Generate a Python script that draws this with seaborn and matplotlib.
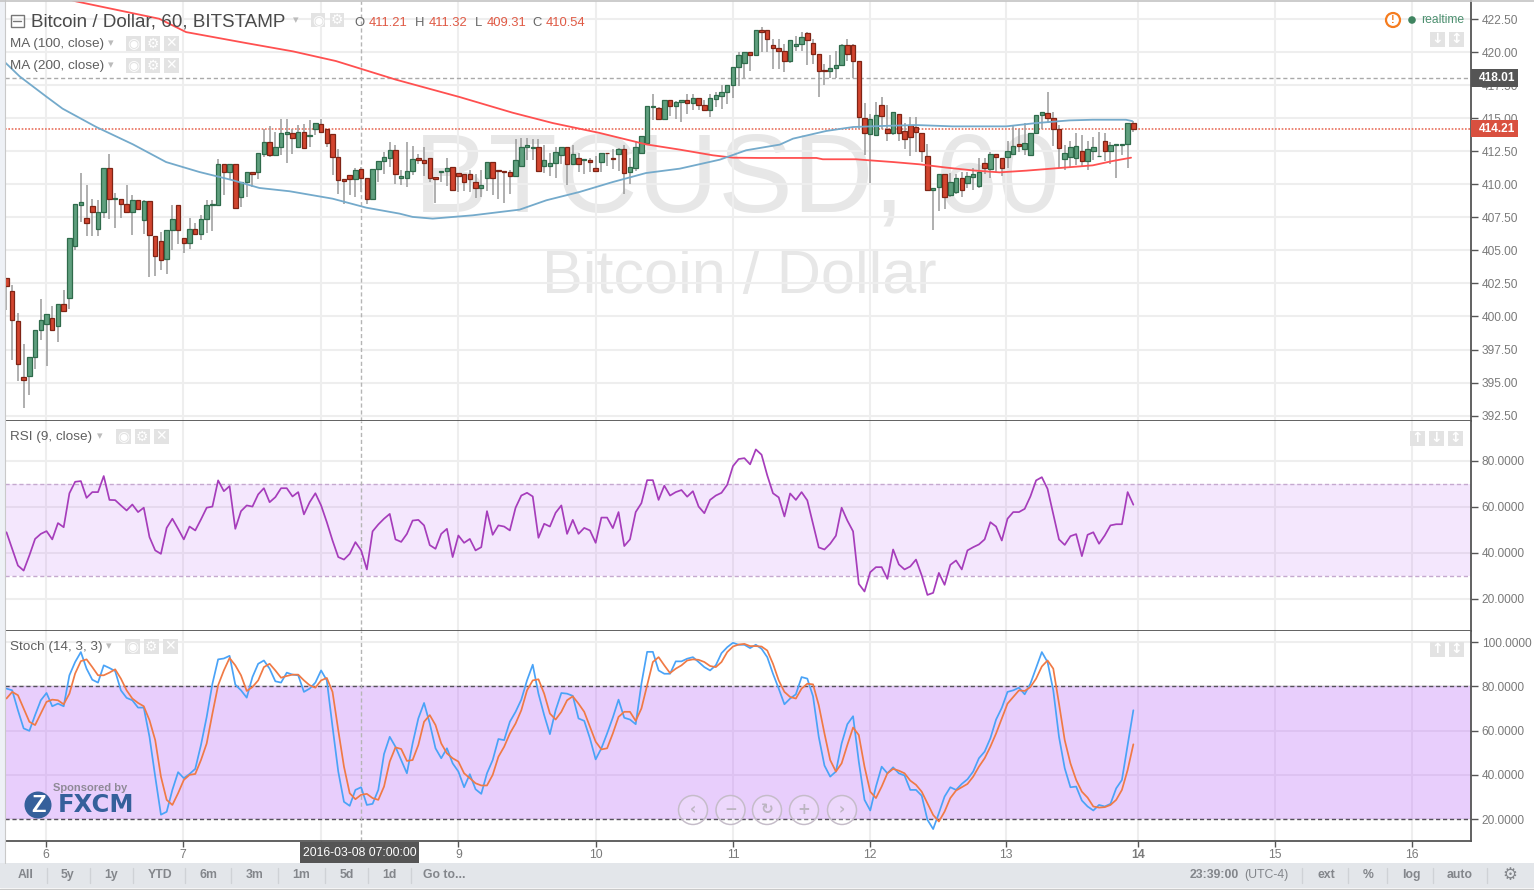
import numpy as np
import matplotlib
matplotlib.use("Agg")
import matplotlib.pyplot as plt
from matplotlib.patches import Rectangle, Circle
import seaborn as sns

sns.set_theme(style="white")
plt.rcParams['font.family'] = ['Liberation Sans', 'DejaVu Sans']

opens = [
    402.94, 401.93, 399.66, 395.43, 395.53, 396.94, 398.96, 399.46, 399.92, 399.26,
    400.92, 401.43, 405.31, 408.41, 407.48, 408.33, 406.64, 407.93, 411.26, 408.91,
    408.89, 408.48, 407.93, 408.79, 407.27, 408.74, 406.06, 405.71, 404.35, 406.52,
    408.41, 405.91, 405.59, 406.64, 406.27, 407.40, 408.45, 408.41, 411.56, 410.93,
    411.56, 409.04, 410.17, 410.90, 410.93, 412.31, 413.22, 412.21, 412.82, 413.83,
    413.90, 412.82, 413.95, 413.67, 414.15, 414.58, 414.15, 413.83, 412.06, 410.42,
    410.68, 410.42, 411.15, 410.50, 408.91, 411.13, 411.76, 412.01, 412.57, 410.48,
    410.48, 411.00, 411.95, 411.85, 412.00, 410.55, 410.90, 411.00, 411.30, 410.85,
    410.75, 410.75, 410.15, 409.70, 410.45, 411.70, 411.05, 411.00, 410.90, 410.65,
    411.40, 412.85, 412.75, 412.85, 411.40, 411.35, 411.60, 412.25, 412.85, 411.50,
    411.95, 411.85, 411.85, 411.25, 411.65, 412.40, 412.00, 412.30, 412.70, 410.90,
    411.25, 412.35, 413.12, 415.85, 415.74, 414.93, 416.40, 415.90, 416.25, 416.40,
    416.15, 416.50, 416.00, 415.65, 416.45, 416.70, 417.00, 417.50, 418.85, 419.20,
    420.00, 419.75, 421.70, 421.65, 420.50, 420.30, 420.05, 419.35, 420.45, 420.60,
    421.45, 420.70, 419.85, 418.65, 418.55, 418.80, 419.05, 420.50, 420.50, 419.35,
    415.00, 413.80, 413.75, 416.00, 414.15, 413.90, 415.35, 414.00, 414.50, 414.35,
    413.90, 412.15, 409.60, 409.80, 410.75, 409.15, 409.45, 410.45, 410.10, 410.55,
    409.90, 411.60, 411.15, 412.30, 412.00, 412.05, 412.30, 413.05, 412.70, 412.25,
    413.90, 415.25, 415.40, 415.00, 414.15, 411.90, 412.05, 412.00, 412.55, 411.75,
    412.55, 412.10, 413.25, 412.50, 412.95, 413.00, 413.05, 414.65,
]
highs = [
    402.94, 402.36, 400.27, 397.95, 396.94, 399.00, 401.35, 400.17, 400.80, 400.92,
    402.00, 405.91, 408.48, 410.85, 409.92, 408.90, 408.80, 411.26, 412.26, 409.34,
    408.89, 409.92, 409.16, 408.79, 408.79, 408.74, 406.06, 406.39, 406.52, 408.41,
    408.41, 405.91, 407.48, 407.10, 407.65, 408.84, 408.84, 411.94, 411.56, 411.56,
    411.56, 410.17, 410.90, 410.90, 412.39, 414.20, 414.38, 413.95, 414.96, 414.96,
    414.20, 414.46, 414.53, 414.88, 414.66, 414.90, 414.15, 413.83, 412.69, 410.42,
    410.68, 411.23, 411.30, 410.50, 411.15, 411.76, 412.44, 413.20, 412.94, 411.10,
    413.20, 412.90, 412.30, 412.80, 412.00, 410.55, 411.00, 412.00, 411.30, 410.85,
    410.75, 411.10, 410.75, 411.10, 411.70, 411.70, 411.05, 411.00, 411.10, 413.40,
    413.50, 413.50, 413.40, 413.40, 412.95, 412.35, 412.80, 412.85, 412.85, 413.00,
    412.40, 411.90, 412.00, 412.15, 412.40, 412.40, 412.65, 412.75, 413.00, 411.95,
    413.30, 413.65, 415.89, 416.85, 415.85, 416.40, 416.40, 416.30, 416.40, 416.85,
    416.85, 416.50, 416.35, 416.85, 417.00, 417.50, 417.50, 418.90, 420.00, 420.00,
    420.00, 421.70, 421.90, 421.65, 421.00, 420.95, 420.60, 420.90, 421.25, 421.55,
    421.55, 421.00, 419.85, 419.10, 419.80, 420.10, 420.60, 420.95, 420.60, 419.35,
    416.15, 415.30, 416.20, 416.60, 416.00, 415.50, 415.35, 414.60, 415.10, 415.10,
    413.90, 413.05, 409.75, 410.75, 410.75, 410.85, 410.80, 410.95, 410.95, 411.20,
    411.95, 411.95, 412.45, 412.30, 412.00, 413.30, 414.45, 414.20, 414.60, 413.90,
    415.25, 415.50, 417.00, 415.50, 414.45, 412.95, 413.30, 413.90, 413.70, 413.30,
    413.60, 413.95, 413.90, 413.20, 413.05, 413.05, 414.60, 414.80,
]
lows = [
    400.47, 396.74, 395.10, 393.11, 394.04, 396.06, 398.25, 396.24, 398.96, 398.08,
    400.42, 400.60, 405.00, 407.15, 406.06, 406.06, 406.06, 407.48, 407.40, 406.72,
    407.48, 407.93, 406.14, 408.16, 406.27, 402.99, 403.04, 403.54, 403.24, 405.00,
    405.51, 404.83, 405.13, 406.27, 405.76, 406.32, 406.47, 408.41, 409.16, 410.30,
    408.23, 408.28, 409.04, 409.80, 410.42, 412.06, 412.06, 412.21, 412.19, 411.61,
    412.31, 412.82, 412.74, 412.82, 413.70, 413.98, 412.82, 410.68, 409.29, 408.53,
    409.16, 409.04, 409.42, 408.48, 408.86, 410.17, 410.75, 411.30, 410.05, 409.95,
    409.80, 410.70, 411.50, 410.60, 410.15, 408.60, 410.20, 409.90, 409.50, 409.45,
    409.50, 409.45, 408.95, 409.00, 409.50, 409.20, 408.90, 408.60, 409.30, 410.65,
    411.40, 411.85, 411.85, 411.00, 410.85, 410.60, 410.50, 411.50, 409.95, 411.50,
    410.90, 410.80, 410.90, 410.90, 410.90, 411.40, 411.15, 411.00, 409.30, 410.00,
    411.00, 412.30, 413.05, 414.85, 414.90, 414.88, 415.20, 414.90, 414.70, 415.35,
    415.60, 415.60, 415.60, 415.10, 415.85, 415.70, 416.10, 416.55, 417.40, 418.00,
    418.60, 419.75, 420.00, 420.00, 418.70, 418.70, 418.50, 419.20, 420.10, 420.10,
    419.00, 419.10, 416.60, 417.50, 418.05, 418.05, 419.00, 419.30, 418.05, 414.20,
    412.20, 410.10, 413.75, 414.20, 413.30, 413.70, 413.30, 412.70, 412.15, 412.45,
    411.70, 409.60, 406.55, 408.00, 408.15, 409.05, 409.30, 409.05, 409.70, 409.60,
    409.70, 410.75, 410.45, 410.90, 410.60, 411.20, 412.30, 412.45, 412.20, 412.25,
    413.90, 414.20, 414.60, 412.90, 411.20, 411.05, 411.30, 411.45, 411.30, 411.05,
    411.80, 412.10, 411.75, 411.55, 410.45, 412.20, 411.25, 413.95,
]
closes = [
    402.33, 399.76, 396.44, 395.18, 396.94, 399.00, 399.76, 400.17, 398.96, 400.92,
    400.42, 405.91, 408.48, 408.66, 407.07, 407.93, 407.93, 411.26, 408.91, 408.95,
    408.48, 407.93, 408.79, 408.16, 408.74, 406.14, 404.60, 404.25, 406.52, 407.40,
    406.57, 405.59, 406.64, 406.27, 407.35, 408.41, 408.50, 411.56, 410.93, 411.56,
    408.23, 410.17, 410.90, 410.80, 412.39, 413.22, 412.21, 412.82, 413.90, 413.95,
    413.50, 413.95, 412.74, 413.75, 414.66, 413.98, 413.12, 412.06, 410.30, 410.25,
    410.42, 411.10, 410.50, 408.91, 411.15, 411.76, 412.06, 412.57, 410.75, 410.60,
    411.00, 411.90, 411.85, 411.60, 410.50, 410.40, 411.00, 411.25, 409.60, 410.65,
    410.20, 410.40, 409.70, 409.95, 411.70, 410.45, 411.00, 410.90, 410.65, 411.85,
    412.85, 413.00, 412.85, 411.00, 411.80, 411.60, 412.45, 412.85, 411.50, 412.30,
    411.50, 411.90, 411.70, 411.00, 412.40, 412.35, 411.90, 412.70, 410.85, 411.30,
    412.85, 413.65, 415.89, 415.88, 414.96, 416.40, 415.90, 416.20, 416.40, 416.15,
    416.50, 416.00, 415.65, 416.50, 416.75, 417.00, 417.50, 418.90, 419.75, 420.00,
    419.75, 421.70, 421.55, 420.95, 420.30, 420.10, 419.35, 420.90, 420.60, 421.15,
    420.90, 419.85, 418.60, 418.55, 418.80, 419.05, 420.50, 419.85, 419.35, 415.10,
    413.90, 414.90, 415.25, 415.20, 413.90, 415.50, 413.90, 413.45, 413.55, 413.95,
    412.50, 409.60, 409.75, 410.75, 409.00, 410.20, 410.45, 409.60, 410.65, 410.80,
    410.95, 411.20, 412.30, 412.05, 411.20, 412.50, 412.90, 412.90, 413.15, 413.90,
    415.25, 415.50, 415.00, 414.15, 412.75, 412.40, 412.80, 412.90, 411.75, 412.65,
    412.80, 412.15, 412.50, 413.00, 413.05, 413.05, 414.60, 414.15,
]

# moving averages, read at the bends of the two lines
ma200_hours = [5, 12.2, 26.7, 31.4, 41.9, 50.1, 57.6, 68.1, 79.2, 88.5, 95.5, 103.7, 111.8,
               117.7, 123.5, 127, 131.6, 141.6, 142.7, 148.5, 150.9, 155, 159.6, 164.3,
               168.9, 173.6, 178.3, 184.1, 189.9, 193.4, 196.6]
ma200 = [424.7, 423.83, 422.52, 421.51, 420.68, 420.05, 419.32, 417.91, 416.6, 415.41, 414.63,
         413.88, 413.02, 412.62, 412.19, 412.01, 411.99, 411.99, 411.89, 411.89, 411.81,
         411.68, 411.51, 411.26, 411.05, 410.9, 411.03, 411.23, 411.43, 411.76, 412.01]
ma100_hours = [-0.3, 2.3, 6.9, 9.8, 15.7, 22.1, 27.9, 33.7, 39.6, 44.2, 49.5, 57, 62.9, 68.7,
               71, 74.5, 81.5, 89.7, 94.4, 100.2, 106, 111.8, 117.7, 124.7, 129.3, 135.2,
               137.5, 143.3, 148, 153.2, 159, 165.4, 174.8, 180, 185.8, 189.9, 195.7, 196.8]
ma100 = [419.24, 418.16, 416.65, 415.72, 414.33, 413.02, 411.68, 410.93, 410.3, 409.72, 409.47,
         408.91, 408.23, 407.78, 407.53, 407.4, 407.65, 408.08, 408.79, 409.42, 410.17, 410.85,
         411.18, 411.86, 412.57, 413.0, 413.45, 414.03, 414.33, 414.41, 414.48, 414.38, 414.38,
         414.63, 414.83, 414.88, 414.88, 414.78]

rsi = [
    48.9, 41.7, 34.4, 32.2, 38.8, 46.0, 48.2, 49.4, 45.8, 52.9, 51.1, 65.9, 70.9, 71.2, 63.9,
    66.4, 66.4, 73.4, 63.0, 62.9, 60.6, 58.4, 61.0, 57.7, 59.6, 46.8, 41.0, 39.5, 50.8, 54.8,
    50.4, 45.8, 51.4, 49.7, 54.5, 59.6, 60.1, 71.5, 66.8, 69.0, 50.4, 58.1, 60.6, 60.1, 65.4,
    68.1, 62.0, 64.2, 68.1, 68.1, 64.5, 66.4, 56.7, 62.0, 65.9, 60.6, 53.3, 45.3, 38.1, 37.0,
    39.5, 44.6, 41.0, 32.7, 49.3, 52.3, 54.8, 56.9, 45.8, 44.7, 48.2, 54.0, 54.3, 51.9, 43.3,
    41.7, 48.2, 50.4, 38.1, 47.5, 44.3, 46.0, 41.0, 42.4, 58.1, 47.8, 51.9, 51.4, 49.7, 59.6,
    64.9, 66.1, 64.5, 46.5, 52.6, 51.4, 57.4, 60.6, 48.2,
    54.3, 48.2, 50.8, 49.7, 44.3, 55.3, 55.3, 50.7, 57.7, 42.9,
    45.8, 57.7, 61.6, 71.6, 71.6, 63.0, 69.2, 64.9, 66.4, 67.3,
    64.4, 66.8, 60.1, 57.2, 63.0, 64.9, 66.1, 69.6, 77.7, 80.8,
    81.2, 78.5, 85.0, 82.7, 73.7, 65.9, 64.1, 55.8, 65.8, 63.0,
    66.4, 62.8, 52.6, 42.3, 41.4, 43.9, 47.4, 59.6, 54.0, 49.3,
    26.4, 23.1, 31.5, 33.7, 33.7, 28.6, 41.4, 34.9, 32.7, 34.0,
    37.0, 30.1, 21.6, 22.5, 31.2, 26.0, 34.7, 36.6, 32.7, 41.0,
    42.4, 43.6, 45.8, 53.3, 51.4, 45.3, 54.8, 57.7, 57.7, 59.1,
    64.5, 71.5, 72.9, 67.8, 56.9, 45.8, 43.4, 47.2, 48.1, 38.5,
    47.8, 48.9, 43.9, 47.5, 51.9, 52.4, 52.4, 66.4, 60.9,
]
stoch_k = [
    79.0, 78.2, 69.2, 61.0, 59.9, 67.0, 73.7, 77.0, 71.0, 72.2,
    71.0, 85.0, 91.0, 95.5, 88.0, 83.0, 81.7, 89.5, 88.3, 86.9,
    78.2, 74.8, 73.7, 70.4, 70.4, 57.2, 39.2, 22.0, 23.3, 33.2,
    41.2, 38.5, 40.4, 42.7, 53.5, 66.2, 81.2, 92.2, 92.6, 93.8,
    80.8, 78.2, 74.9, 84.2, 90.2, 91.7, 88.0, 82.3, 81.7, 86.2,
    85.3, 85.0, 77.5, 79.0, 81.7, 87.2, 82.7, 61.7, 41.5, 27.8,
    26.0, 33.2, 34.4, 26.4, 26.9, 33.2, 49.4, 57.2, 52.7, 46.7,
    40.7, 54.2, 65.5, 72.5, 63.2, 52.0, 47.5, 52.0, 45.2, 41.5,
    34.4, 40.3, 33.5, 31.4, 40.7, 46.7, 56.2, 55.7, 64.0, 68.5,
    74.0, 82.7, 89.8, 76.7, 67.0, 58.4, 69.2, 77.0, 76.7,
    75.7, 65.5, 64.4, 56.5, 47.0, 52.0, 58.7, 65.9, 74.0, 65.8,
    65.0, 62.9, 81.2, 95.6, 95.6, 87.2, 85.7, 85.7, 91.3, 91.3,
    92.5, 93.2, 91.0, 88.7, 87.2, 89.5, 95.0, 97.7, 99.7, 98.8,
    98.8, 97.3, 98.8, 97.0, 93.2, 85.7, 79.0, 71.9, 74.5, 76.4,
    84.2, 83.5, 75.5, 57.2, 44.2, 39.2, 41.5, 54.2, 62.9, 66.5,
    46.0, 28.7, 23.9, 34.7, 43.7, 40.7, 43.4, 40.7, 39.7, 33.2,
    33.2, 30.6, 19.7, 15.5, 22.7, 30.2, 34.4, 33.2, 35.9, 38.0,
    41.5, 47.5, 50.5, 56.5, 65.0, 70.3, 77.5, 78.2, 79.4, 76.4,
    81.2, 88.4, 95.5, 91.0, 78.2, 57.2, 43.0, 34.4, 34.7, 28.4,
    25.7, 23.9, 26.4, 25.7, 26.9, 33.9, 37.7, 53.5, 69.2,
]
stoch_d = [
    74.5, 77.5, 76.0, 70.0, 64.0, 62.5, 67.7, 73.0, 74.0, 73.7,
    71.9, 76.7, 85.8, 91.4, 92.2, 88.7, 85.0, 85.0, 86.2, 87.7,
    83.5, 78.2, 74.5, 72.5, 71.0, 64.7, 55.7, 39.2, 28.7, 26.4,
    31.7, 37.7, 40.0, 40.4, 46.7, 54.2, 67.7, 80.5, 87.2, 92.8,
    89.5, 85.0, 77.9, 79.7, 82.7, 88.7, 90.2, 87.2, 83.9, 84.7,
    85.3, 85.3, 82.7, 80.5, 79.4, 82.7, 83.8, 77.5, 60.2, 43.7,
    31.7, 29.0, 31.0, 31.4, 29.5, 28.7, 34.7, 46.0, 52.4, 51.7,
    46.3, 46.7, 53.5, 64.0, 67.0, 62.5, 54.2, 49.7, 47.5, 46.0,
    40.7, 38.5, 36.2, 35.2, 35.2, 40.0, 48.2, 52.7, 58.7, 63.2,
    69.2, 78.2, 82.7, 83.2, 76.7, 67.7, 65.0, 68.5, 73.7,
    75.5, 72.2, 68.5, 61.7, 55.0, 51.5, 52.0, 58.7, 66.2, 68.5,
    68.5, 64.4, 70.0, 80.5, 91.0, 93.2, 89.5, 86.0, 88.0, 89.5,
    91.7, 92.2, 92.0, 91.0, 89.2, 88.7, 91.0, 95.5, 98.0, 98.9,
    99.2, 98.2, 98.2, 98.0, 96.2, 90.2, 82.7, 77.5, 75.2, 74.5,
    79.0, 81.2, 80.9, 71.5, 58.7, 46.7, 41.5, 45.2, 53.5, 61.4,
    58.0, 43.7, 32.4, 29.5, 34.7, 40.7, 42.7, 41.9, 40.7, 37.4,
    35.5, 32.4, 27.2, 21.9, 18.9, 23.4, 29.5, 32.9, 34.4, 35.9,
    39.2, 43.7, 47.5, 52.7, 58.7, 65.5, 72.2, 75.2, 78.2, 77.9,
    79.7, 83.5, 89.0, 91.7, 88.0, 72.2, 55.7, 45.2, 37.7, 32.4,
    29.7, 25.7, 25.2, 25.4, 26.4, 28.7, 33.2, 42.2, 53.8,
]

# the "8" tick is hidden by the crosshair date tag in the chart
day_ticks = [6.9, 30.9, 55, 79, 103, 127, 151, 174.8, 197.8, 221.8, 245.7]
day_labels = ["6", "7", "", "9", "10", "11", "12", "13", "14", "15", "16"]
price_ticks = [392.5, 395, 397.5, 400, 402.5, 405, 407.5, 410, 412.5, 415, 417.5, 420, 422.5]
rsi_ticks = [20, 40, 60, 80]
stoch_ticks = [20, 40, 60, 80, 100]
last_close = 414.21
prev_close = 418.01

W, H = 1534, 890
GRID = "#eeeeee"
TICK = "#7a7a7a"
DARK = "#555555"
hours = np.arange(len(closes))
xlim = (-0.26, 255.94)


def add_pane(top, bottom, ylim):
    ax = fig.add_axes([5 / W, 1 - bottom / H, 1465.5 / W, (bottom - top) / H])
    ax.set_xlim(*xlim)
    ax.set_ylim(*ylim)
    ax.set_xticks(day_ticks)
    ax.set_xticklabels([])
    ax.yaxis.tick_right()
    ax.tick_params(axis="y", length=5, width=1, color=DARK, labelsize=8.6,
                   labelcolor=TICK, pad=3, right=True)
    ax.tick_params(axis="x", length=0)
    ax.grid(True, color=GRID, lw=1.5, zorder=0)
    ax.set_axisbelow(True)
    for side in ["left", "top"]:
        ax.spines[side].set_visible(False)
    for side in ["right", "bottom"]:
        ax.spines[side].set_color(DARK)
        ax.spines[side].set_linewidth(1.3)
    return ax


def ui_button(x, y, glyph, size=15):
    ui.add_patch(Rectangle((x - size / 2, y - size / 2), size, size, fc="#e3e3e3", ec="none"))
    ui.text(x, y, glyph, color="white", ha="center", va="center", fontsize=10,
            family="DejaVu Sans", fontweight="bold")


fig = plt.figure(figsize=(W / 100, H / 100), dpi=100, facecolor="white")
ui = fig.add_axes([0, 0, 1, 1], zorder=10)
ui.set_xlim(0, W)
ui.set_ylim(H, 0)
ui.axis("off")
ui.patch.set_alpha(0)

# price pane
ax1 = add_pane(0.5, 420.5, (392.13, 423.9))
ax1.set_yticks(price_ticks)
ax1.set_yticklabels([f"{v:.2f}" for v in price_ticks])
ax1.text(737, 183, "BTCUSD, 60", transform=ui.transData, color="#e7e7e7", fontsize=80.5,
         ha="center", va="center", zorder=0.5)
ax1.text(739, 277, "Bitcoin / Dollar", transform=ui.transData, color="#e7e7e7", fontsize=44,
         ha="center", va="center", zorder=0.5)

o, h, l, c = map(np.array, (opens, highs, lows, closes))
up = c >= o
ax1.vlines(hours, l, h, color="#9a9a9a", lw=1.1, zorder=2)
body = np.maximum(np.abs(c - o), 0.04)
ax1.bar(hours[up], body[up], bottom=o[up], width=0.78, color="#5f9f7e", edgecolor="#2f6b4b",
        linewidth=0.9, zorder=3)
ax1.bar(hours[~up], body[~up], bottom=c[~up], width=0.78, color="#d2452f", edgecolor="#7f2415",
        linewidth=0.9, zorder=3)
sns.lineplot(x=ma200_hours, y=ma200, ax=ax1, color="#ff5050", lw=1.3, zorder=4,
             estimator=None, errorbar=None)
sns.lineplot(x=ma100_hours, y=ma100, ax=ax1, color="#74aacb", lw=1.3, zorder=4,
             estimator=None, errorbar=None)
ax1.axhline(prev_close, color="#aaaaaa", lw=1, ls=(0, (3, 2)), zorder=1.5)
ax1.axhline(last_close, color="#e8705c", lw=1.2, ls=(0, (1, 1)), zorder=1.5)

# rsi pane
ax2 = add_pane(420.5, 630.5, (6.1, 97.6))
ax2.set_yticks(rsi_ticks)
ax2.set_yticklabels([f"{v:.4f}" for v in rsi_ticks])
ax2.axhspan(30, 70, color="#b85bf1", alpha=0.14, lw=0, zorder=1)
for level in (30, 70):
    ax2.axhline(level, color="#c5a9cf", lw=1, ls=(0, (3, 2)), zorder=1.5)
sns.lineplot(x=hours, y=rsi, ax=ax2, color="#a63dbb", lw=1.25, zorder=3,
             estimator=None, errorbar=None)

# stochastic pane
ax3 = add_pane(630.5, 841, (10.1, 105.25))
ax3.set_yticks(stoch_ticks)
ax3.set_yticklabels([f"{v:.4f}" for v in stoch_ticks])
ax3.axhspan(20, 80, color="#b65ff8", alpha=0.3, lw=0, zorder=1)
for level in (20, 80):
    ax3.axhline(level, color="#55505a", lw=1, ls=(0, (3, 2)), zorder=1.5)
sns.lineplot(x=hours, y=stoch_k, ax=ax3, color="#4aa3f7", lw=1.25, zorder=3,
             estimator=None, errorbar=None)
sns.lineplot(x=hours, y=stoch_d, ax=ax3, color="#f07a45", lw=1.25, zorder=4,
             estimator=None, errorbar=None)
ax3.tick_params(axis="x", length=4, width=1, color=DARK, labelsize=8.8, labelcolor=TICK, pad=1.5,
                bottom=True)
ax3.set_xticklabels(day_labels)
ax3.get_xticklabels()[8].set_fontweight("bold")

# crosshair across all panes
for ax in (ax1, ax2, ax3):
    ax.axvline(62, color="#b5b5b5", lw=1, ls=(0, (3, 2)), zorder=2)

# frame bits and bottom toolbar
ui.add_patch(Rectangle((0, 0), 4.5, 863, fc="#eef1f6", ec="none"))
ui.plot([4.5, 4.5], [0, 863], color="#c9c9c9", lw=0.8)
ui.plot([0, 1534], [0.5, 0.5], color="#c4c4c4", lw=1.2)
ui.add_patch(Rectangle((0, 863), 1534, 25, fc="#e3e6ea", ec="none"))
ui.plot([0, 1534], [888.5, 888.5], color="#c8c8c8", lw=1)

for x, t in zip([26, 68, 111, 160, 208, 255, 301, 347, 389, 444],
                ["All", "5y", "1y", "YTD", "6m", "3m", "1m", "5d", "1d", "Go to..."]):
    ui.text(x, 875, t, color="#83868b", fontsize=8.8, fontweight="bold", ha="center", va="center")
for x in [47, 90, 133, 185, 231, 278, 325, 368, 411, 1302, 1348, 1387, 1433, 1487]:
    ui.plot([x, x], [868, 883], color="#cfd2d6", lw=1)
ui.text(1190, 875, "23:39:00", color="#83868b", fontsize=8.8, fontweight="bold", ha="left", va="center")
ui.text(1244, 875, "(UTC-4)", color="#83868b", fontsize=8.8, ha="left", va="center")
for x, t in zip([1326, 1368, 1411, 1460], ["ext", "%", "log", "auto"]):
    ui.text(x, 875, t, color="#83868b", fontsize=8.8, fontweight="bold", ha="center", va="center")
ui.text(1510, 875, "⚙", color="#83868b", fontsize=12, ha="center", va="center", family="DejaVu Sans")

# crosshair date tag
ui.add_patch(Rectangle((300, 842), 119, 21, fc="#555555", ec="none"))
ui.text(360, 853, "2016-03-08 07:00:00", color="white", fontsize=8.7, ha="center", va="center")

# price tags
ui.add_patch(Rectangle((1471, 69), 47, 18, fc="#555555", ec="none"))
ui.text(1479, 78, "418.01", color="white", fontsize=8.6, fontweight="bold", ha="left", va="center")
ui.add_patch(Rectangle((1471, 120), 47, 17, fc="#d9503f", ec="none"))
ui.text(1479, 128.5, "414.21", color="white", fontsize=8.6, fontweight="bold", ha="left", va="center")

# header legend
ui.add_patch(Rectangle((10.5, 15), 13, 12, fc="none", ec="#777777", lw=1))
ui.plot([13, 21], [21, 21], color="#777777", lw=1)
ui.text(31, 22, "Bitcoin / Dollar, 60, BITSTAMP", color="#4a4a4a", fontsize=13.6, ha="left", va="center")
ui.text(296, 20, "▾", color="#bbbbbb", fontsize=8, ha="center", va="center", family="DejaVu Sans")
ui_button(318, 20, "◉", 14)
ui_button(337, 20, "⚙", 14)
ui.text(354, 22.5, "O", color="#666666", fontsize=9.4, ha="left", va="center")
ui.text(369, 22.5, "411.21", color="#e05a45", fontsize=9.4, ha="left", va="center")
ui.text(415, 22.5, "H", color="#666666", fontsize=9.4, ha="left", va="center")
ui.text(429, 22.5, "411.32", color="#e05a45", fontsize=9.4, ha="left", va="center")
ui.text(475, 22.5, "L", color="#666666", fontsize=9.4, ha="left", va="center")
ui.text(487, 22.5, "409.31", color="#e05a45", fontsize=9.4, ha="left", va="center")
ui.text(532, 22.5, "C", color="#666666", fontsize=9.4, ha="left", va="center")
ui.text(546, 22.5, "410.54", color="#e05a45", fontsize=9.4, ha="left", va="center")

# indicator legends
for name, y, tx, bx in [("MA (100, close)", 44, 111, (133.5, 152.5, 171.5)),
                        ("MA (200, close)", 66, 111, (133.5, 152.5, 171.5)),
                        ("RSI (9, close)", 437, 100, (123, 142, 161)),
                        ("Stoch (14, 3, 3)", 647, 109, (132, 151, 170))]:
    ui.text(10, y, name, color="#5f5f5f", fontsize=9.7, ha="left", va="center")
    ui.text(tx, y - 1, "▾", color="#bbbbbb", fontsize=8, ha="center", va="center", family="DejaVu Sans")
    for x, g in zip(bx, ["◉", "⚙", "✕"]):
        ui_button(x, y - 0.5, g)

# right side buttons and realtime flag
for x, y, g in [(1437, 39, "↓"), (1456, 39, "↕"), (1417, 438, "↑"), (1436, 438, "↓"),
                (1455, 438, "↕"), (1437, 649, "↑"), (1456, 649, "↕")]:
    ui_button(x, y, g)
ui.add_patch(Circle((1393, 20), 7, fc="white", ec="#f57c1f", lw=1.6))
ui.text(1393, 20, "!", color="#f57c1f", fontsize=8, fontweight="bold", ha="center", va="center")
ui.add_patch(Circle((1412, 20), 3.8, fc="#3f8460", ec="none"))
ui.text(1421, 20, "realtime", color="#4d9070", fontsize=8.7, ha="left", va="center")

# sponsor logo
ui.text(90, 788, "Sponsored by", color="#8f8a97", fontsize=8, fontweight="bold", ha="center", va="center")
ui.add_patch(Circle((38, 805), 13.5, fc="#35609b", ec="none"))
ui.text(38, 805, "Z", color="white", fontsize=17, fontweight="bold", ha="center", va="center")
ui.text(96.5, 805, "FXCM", color="#35609b", fontsize=17.5, fontweight="bold", ha="center", va="center",
        family="DejaVu Sans")

# zoom controls
for x, g in zip([693, 730.5, 767, 804, 842], ["‹", "−", "↻", "+", "›"]):
    ui.add_patch(Circle((x, 810), 14.5, fc="#ffffff", ec="#bdbdbd", lw=1, alpha=0.22))
    ui.add_patch(Circle((x, 810), 14.5, fc="none", ec="#c5bcc9", lw=1))
    ui.text(x, 809.5, g, color="#bdb5c2", fontsize=11, fontweight="bold", ha="center", va="center",
            family="DejaVu Sans")

fig.savefig("out.png", dpi=100)
